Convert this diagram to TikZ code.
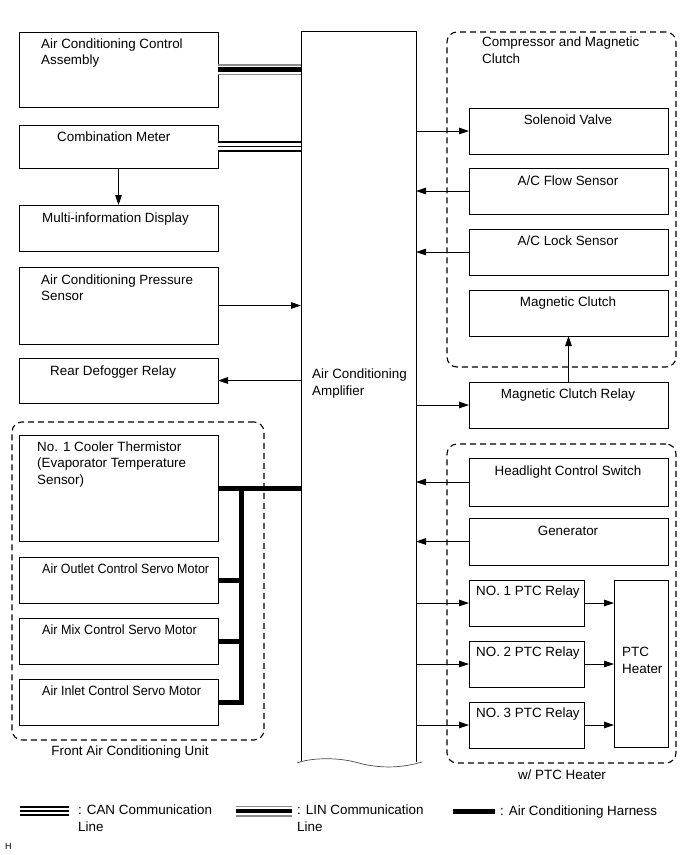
\documentclass[tikz,border=0pt]{standalone}
\usepackage{fontspec}
\usepackage{graphicx}
\setmainfont{Liberation Sans}
\usetikzlibrary{arrows.meta}
\begin{document}
\begin{tikzpicture}[x=1pt,y=-1pt,
  box/.style={draw, line width=0.9pt, inner sep=0pt, outer sep=0pt, anchor=north west},
  grp/.style={draw, line width=1.1pt, dash pattern=on 6pt off 4pt, rounded corners=10pt, inner sep=0pt, outer sep=0pt, anchor=north west},
  lbl/.style={font=\fontsize{13.4}{16.5}\selectfont, inner sep=0pt, align=left},
  arr/.style={line width=0.8pt, -{Triangle[length=10pt,width=6.5pt]}},
  harn/.style={line width=5pt, line join=miter},
  canl/.style={line width=10.5pt, black, postaction={draw, white, line width=6.5pt}, postaction={draw, black, line width=1.2pt}},
  linl/.style={line width=11pt, black!45, postaction={draw, white, line width=8pt}, postaction={draw, black, line width=4.5pt}}]
\useasboundingbox (0,0) rectangle (691,855);

% dashed groups
\node[grp, minimum width=229pt, minimum height=335pt] (gcomp) at (447,32) {};
\node[grp, minimum width=229pt, minimum height=319pt] (gptc) at (447,444) {};
\node[grp, minimum width=252pt, minimum height=318pt] (gfront) at (12,422) {};

% left boxes
\node[box, minimum width=199pt, minimum height=75pt] (acca) at (19,32) {};
\node[box, minimum width=199pt, minimum height=43pt] (cm) at (19,125) {};
\node[box, minimum width=199pt, minimum height=46pt] (mid) at (19,205) {};
\node[box, minimum width=199pt, minimum height=77pt] (acps) at (19,267) {};
\node[box, minimum width=199pt, minimum height=45pt] (rdr) at (19,358) {};
\node[box, minimum width=199pt, minimum height=106pt] (cool) at (19,435) {};
\node[box, minimum width=199pt, minimum height=46pt] (outlet) at (19,557) {};
\node[box, minimum width=199pt, minimum height=46pt] (mix) at (19,618) {};
\node[box, minimum width=199pt, minimum height=46pt] (inlet) at (19,679) {};

% right boxes
\node[box, minimum width=199pt, minimum height=46pt] (sv) at (469,108) {};
\node[box, minimum width=199pt, minimum height=46pt] (flow) at (469,168) {};
\node[box, minimum width=199pt, minimum height=46pt] (lock) at (469,229) {};
\node[box, minimum width=199pt, minimum height=46pt] (mc) at (469,290) {};
\node[box, minimum width=199pt, minimum height=46pt] (mcr) at (469,382) {};
\node[box, minimum width=199pt, minimum height=48pt] (head) at (469,458) {};
\node[box, minimum width=199pt, minimum height=47pt] (gen) at (469,518) {};
\node[box, minimum width=115pt, minimum height=46pt] (r1) at (469,580) {};
\node[box, minimum width=115pt, minimum height=46pt] (r2) at (469,641) {};
\node[box, minimum width=115pt, minimum height=46pt] (r3) at (469,702) {};
\node[box, minimum width=54pt, minimum height=167pt] (ptc) at (614,580) {};

% amplifier
\node[inner sep=0pt, outer sep=0pt, anchor=north west, minimum width=115pt, minimum height=731pt] (amp) at (301,31) {};
\draw[line width=0.9pt] (amp.south west) -- (amp.north west) -- (amp.north east) -- (amp.south east);
\draw[line width=0.7pt, black!70] (297,763) .. controls (310,758) and (335,757) .. (355,762) .. controls (372,767) and (395,770) .. (422,762);

% texts (base anchor = baseline of last line)
\node[lbl, anchor=base west] (tacca) at (41,64.5) {Air Conditioning Control\\Assembly};
\node[lbl, anchor=base west] (tcm) at (57,141) {Combination Meter};
\node[lbl, anchor=base west] (tmid) at (42,222) {Multi-information Display};
\node[lbl, anchor=base west] (tacps) at (41,300.5) {Air Conditioning Pressure\\Sensor};
\node[lbl, anchor=base west] (trdr) at (50,375) {Rear Defogger Relay};
\node[lbl, anchor=base west] (tcool) at (37,484) {No. 1 Cooler Thermistor\\(Evaporator Temperature\\Sensor)};
\node[lbl, anchor=base west] (toutlet) at (42,573) {\scalebox{0.93}[1]{Air Outlet Control Servo Motor}};
\node[lbl, anchor=base west] (tmix) at (42,634) {\scalebox{0.94}[1]{Air Mix Control Servo Motor}};
\node[lbl, anchor=base west] (tinlet) at (42,695) {\scalebox{0.94}[1]{Air Inlet Control Servo Motor}};
\node[lbl, anchor=base] (tfront) at (130,755) {Front Air Conditioning Unit};
\node[lbl, anchor=base west] (tamp) at (312,395) {Air Conditioning\\Amplifier};
\node[lbl, anchor=base west] (tcomp) at (482,63) {Compressor and Magnetic\\Clutch};
\node[lbl, anchor=base] (tsv) at (568,124) {Solenoid Valve};
\node[lbl, anchor=base] (tflow) at (568,185) {A/C Flow Sensor};
\node[lbl, anchor=base] (tlock) at (568,245) {A/C Lock Sensor};
\node[lbl, anchor=base] (tmc) at (568,306) {Magnetic Clutch};
\node[lbl, anchor=base] (tmcr) at (568,398) {Magnetic Clutch Relay};
\node[lbl, anchor=base] (thead) at (568,475) {Headlight Control Switch};
\node[lbl, anchor=base] (tgen) at (568,535) {Generator};
\node[lbl, anchor=base west] (tr1) at (476,595) {NO. 1 PTC Relay};
\node[lbl, anchor=base west] (tr2) at (476,656) {NO. 2 PTC Relay};
\node[lbl, anchor=base west] (tr3) at (476,717) {NO. 3 PTC Relay};
\node[lbl, anchor=base west] (tptc) at (622,673) {PTC\\Heater};
\node[lbl, anchor=base] (twptc) at (562,779) {w/ PTC Heater};

% communication lines
\draw[linl] (acca.east) -- (acca.east -| amp.west);
\draw[canl] (cm.east) -- (cm.east -| amp.west);

% harness
\coordinate (hx) at (241,0);
\draw[harn] (cool.east) -- (cool.east -| amp.west);
\draw[harn] ([yshift=-2.5pt]hx |- cool.east) -- (hx |- inlet.east) -- (inlet.east);
\draw[harn] (outlet.east) -- (hx |- outlet.east);
\draw[harn] (mix.east) -- (hx |- mix.east);

% arrows
\draw[arr] (cm.south) -- (mid.north);
\draw[arr] (acps.east) -- (acps.east -| amp.west);
\draw[arr] (rdr.east -| amp.west) -- (rdr.east);
\draw[arr] (sv.west -| amp.east) -- (sv.west);
\draw[arr] (flow.west) -- (flow.west -| amp.east);
\draw[arr] (lock.west) -- (lock.west -| amp.east);
\draw[arr] (mcr.north) -- (mc.south);
\draw[arr] (mcr.west -| amp.east) -- (mcr.west);
\draw[arr] (head.west) -- (head.west -| amp.east);
\draw[arr] (gen.west) -- (gen.west -| amp.east);
\draw[arr] (r1.west -| amp.east) -- (r1.west);
\draw[arr] (r2.west -| amp.east) -- (r2.west);
\draw[arr] (r3.west -| amp.east) -- (r3.west);
\draw[arr] (r1.east) -- (r1.east -| ptc.west);
\draw[arr] (r2.east) -- (r2.east -| ptc.west);
\draw[arr] (r3.east) -- (r3.east -| ptc.west);

% legend
\coordinate (canA) at (20,811); \coordinate (canB) at (69,811);
\draw[canl] (canA) -- (canB);
\node[lbl, anchor=base west] (tcan) at (78,831) {: CAN Communication\\Line};
\coordinate (linA) at (236,811); \coordinate (linB) at (292,811);
\draw[linl] (linA) -- (linB);
\node[lbl, anchor=base west] (tlin) at (297,831) {: LIN Communication\\Line};
\coordinate (hA) at (453,811); \coordinate (hB) at (495,811);
\draw[harn] (hA) -- (hB);
\node[lbl, anchor=base west] (tharn) at (500,815) {: Air Conditioning Harness};
\node[font=\fontsize{9}{10}\selectfont, inner sep=0pt, anchor=base west] (th) at (5,849) {H};
\end{tikzpicture}
\end{document}
